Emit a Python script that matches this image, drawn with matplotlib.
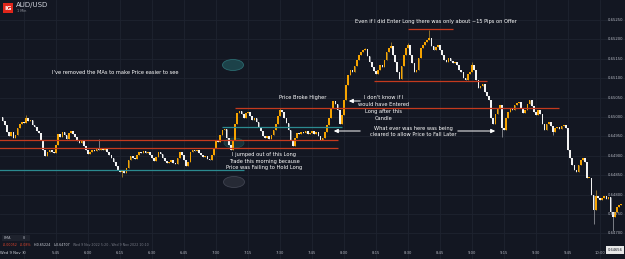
import numpy as np
import matplotlib
matplotlib.use("Agg")
from matplotlib import pyplot as plt
from matplotlib.patches import Ellipse, Rectangle

# 1 minute AUD/USD candles, Wed 9 Nov 2022 5:20 - 10:10
first_open = 0.65000
closes = [
    0.64990, 0.64979, 0.64961, 0.64951, 0.64961, 0.64946, 0.64954, 0.64972, 0.64982, 0.64987,
    0.64985, 0.64997, 0.64990, 0.64992, 0.64979, 0.64974, 0.64964, 0.64959, 0.64941, 0.64915,
    0.64899, 0.64910, 0.64915, 0.64910, 0.64907, 0.64928, 0.64956, 0.64948, 0.64961, 0.64954,
    0.64943, 0.64959, 0.64964, 0.64956, 0.64948, 0.64938, 0.64933, 0.64941, 0.64925, 0.64915,
    0.64905, 0.64910, 0.64915, 0.64912, 0.64918, 0.64915, 0.64920, 0.64915, 0.64918, 0.64910,
    0.64902, 0.64894, 0.64884, 0.64874, 0.64863, 0.64858, 0.64863, 0.64856, 0.64869, 0.64889,
    0.64899, 0.64894, 0.64892, 0.64902, 0.64910, 0.64907, 0.64912, 0.64907, 0.64910, 0.64902,
    0.64894, 0.64887, 0.64897, 0.64910, 0.64905, 0.64894, 0.64887, 0.64881, 0.64884, 0.64889,
    0.64881, 0.64879, 0.64894, 0.64910, 0.64902, 0.64889, 0.64874, 0.64884, 0.64910, 0.64915,
    0.64912, 0.64915, 0.64907, 0.64902, 0.64897, 0.64899, 0.64892, 0.64889, 0.64902, 0.64920,
    0.64941, 0.64936, 0.64954, 0.64966, 0.64969, 0.64946, 0.64928, 0.64915, 0.64941, 0.64982,
    0.65010, 0.65015, 0.65008, 0.64997, 0.65010, 0.65013, 0.65003, 0.64992, 0.64997, 0.64987,
    0.64974, 0.64964, 0.64951, 0.64946, 0.64951, 0.64943, 0.64954, 0.64966, 0.64982, 0.65003,
    0.65018, 0.65013, 0.64997, 0.64985, 0.64966, 0.64941, 0.64925, 0.64946, 0.64959, 0.64956,
    0.64961, 0.64959, 0.64964, 0.64956, 0.64959, 0.64964, 0.64956, 0.64961, 0.64951, 0.64941,
    0.64946, 0.64961, 0.64979, 0.64997, 0.65023, 0.65041, 0.65034, 0.65018, 0.64982, 0.65005,
    0.65044, 0.65082, 0.65108, 0.65121, 0.65116, 0.65131, 0.65147, 0.65160, 0.65168, 0.65173,
    0.65175, 0.65157, 0.65142, 0.65129, 0.65119, 0.65111, 0.65121, 0.65134, 0.65129, 0.65147,
    0.65168, 0.65178, 0.65183, 0.65160, 0.65142, 0.65116, 0.65098, 0.65131, 0.65160, 0.65178,
    0.65186, 0.65160, 0.65139, 0.65116, 0.65121, 0.65152, 0.65178, 0.65186, 0.65193, 0.65198,
    0.65204, 0.65183, 0.65173, 0.65180, 0.65186, 0.65173, 0.65160, 0.65147, 0.65142, 0.65152,
    0.65144, 0.65139, 0.65142, 0.65134, 0.65121, 0.65116, 0.65101, 0.65095, 0.65111, 0.65116,
    0.65134, 0.65121, 0.65095, 0.65075, 0.65080, 0.65085, 0.65064, 0.65054, 0.65044, 0.64997,
    0.64982, 0.65008, 0.65023, 0.65031, 0.64972, 0.64966, 0.64997, 0.65013, 0.65023, 0.65018,
    0.65031, 0.65036, 0.65039, 0.65023, 0.65010, 0.65018, 0.65034, 0.65044, 0.65028, 0.65013,
    0.65005, 0.65018, 0.65008, 0.64982, 0.64966, 0.64982, 0.64987, 0.64977, 0.64961, 0.64972,
    0.64974, 0.64969, 0.64977, 0.64979, 0.64972, 0.64915, 0.64894, 0.64876, 0.64863, 0.64858,
    0.64876, 0.64889, 0.64894, 0.64884, 0.64843, 0.64843, 0.64799, 0.64760, 0.64796, 0.64791,
    0.64786, 0.64791, 0.64796, 0.64789, 0.64794, 0.64755, 0.64742, 0.64755, 0.64768, 0.64773,
    0.64776,
]
# wicks that stick out visibly (candle index -> price)
wick_highs = {11: 0.65005, 45: 0.64943, 130: 0.65023, 170: 0.65178, 182: 0.65193,
              190: 0.65191, 200: 0.65224, 220: 0.65142, 278: 0.64812}
wick_lows = {56: 0.64845, 234: 0.64948, 258: 0.64954, 277: 0.64725, 286: 0.64707}

# x axis labels every 15 minutes from 5:30
tick_times = ["5:30", "5:45", "6:00", "6:15", "6:30", "6:45", "7:00", "7:15", "7:30",
              "7:45", "8:00", "8:15", "8:30", "8:45", "9:00", "9:15", "9:30", "9:45", "10:00"]
price_ticks = [0.64700, 0.64750, 0.64800, 0.64850, 0.64900, 0.64950,
               0.65000, 0.65050, 0.65100, 0.65150, 0.65200, 0.65250]

# drawn levels: (price, start candle, end candle)
red_levels = [(0.64941, -2, 157), (0.64920, -2, 157), (0.65023, 109, 261),
              (0.65093, 174, 227), (0.65227, 190, 211)]
teal_levels = [(0.64863, -2, 113), (0.64974, 103, 159)]

bg = "#131722"
up_col = "#f5a300"
dn_col = "#f2f2f2"


def minute_index(t):
    h, m = t.split(":")
    return int(h) * 60 + int(m) - (5 * 60 + 20)


closes = np.array(closes)
opens = np.concatenate([[first_open], closes[:-1]])
idx = np.arange(len(closes))
highs = np.maximum(opens, closes)
lows = np.minimum(opens, closes)
for k, v in wick_highs.items():
    highs[k] = v
for k, v in wick_lows.items():
    lows[k] = v

fig = plt.figure(figsize=(6.25, 2.59), dpi=100, facecolor=bg)
ax = fig.add_axes([0, 0, 1, 1], facecolor=bg)
ax.set_xlim(-1.25, 291.75)
ax.set_ylim(0.646341, 0.653015)
ax.axis("off")

# grid
for t in tick_times:
    ax.axvline(minute_index(t), color="#1e2330", lw=0.6, zorder=0)
for p in price_ticks:
    ax.axhline(p, color="#1e2330", lw=0.6, zorder=0)

# candles
up = closes >= opens
colors = np.where(up, up_col, dn_col)
wick_colors = np.where(up, "#a07c2c", "#8c8f96")
ax.vlines(idx, lows, highs, colors=wick_colors, lw=0.6, zorder=2)
body_h = np.maximum(np.abs(closes - opens), 0.000018)
ax.bar(idx, body_h, bottom=np.minimum(opens, closes), width=0.78,
       color=colors, linewidth=0, zorder=3)

# levels
for p, a, b in red_levels:
    ax.hlines(p, a, b, color="#c43a1e", lw=0.9, zorder=4)
for p, a, b in teal_levels:
    ax.hlines(p, a, b, color="#2b8a90", lw=0.9, zorder=4)

tr = ax.transAxes


def P(x, y):
    return (x / 625, 1 - y / 259)


# ellipses
ax.add_patch(Ellipse(P(233, 65), 21 / 625, 11 / 259, transform=tr,
                     facecolor="#1c4249", edgecolor="#2b6b70", lw=0.6, zorder=1))
ax.add_patch(Ellipse(P(234, 143), 20 / 625, 10 / 259, transform=tr,
                     facecolor="#1c3a40", edgecolor="#24565b", lw=0.5, alpha=0.8, zorder=1))
ax.add_patch(Ellipse(P(234, 182), 21 / 625, 11 / 259, transform=tr,
                     facecolor="#262a35", edgecolor="#404451", lw=0.6, zorder=1))

# annotation texts
fs = 3.7
txt = dict(color="white", fontsize=fs, transform=tr, zorder=6, linespacing=1.45)
ax.text(*P(115, 72), "I've removed the MAs to make Price easier to see", ha="center", va="center", **txt)
ax.text(*P(436, 22), "Even if I did Enter Long there was only about ~15 Pips on Offer",
        ha="center", va="center", **txt)
ax.text(*P(303, 98), "Price Broke Higher", ha="center", va="center", **txt)
ax.text(*P(384, 108), "I don't know if I\nwould have Entered\nLong after this\nCandle",
        ha="center", va="center", **txt)
ax.text(*P(413, 131.5), "What ever was here was being\ncleared to allow Price to Fall Later",
        ha="center", va="center", **txt)
ax.text(*P(264, 161), "I jumped out of this Long\nTrade this morning because\nPrice was Failing to Hold Long",
        ha="center", va="center", **txt)

arrow = dict(arrowstyle="-|>,head_length=0.25,head_width=0.12", color="white", lw=0.7)
ax.annotate("", xy=P(346, 101), xytext=P(363, 101), xycoords=tr, textcoords=tr, arrowprops=arrow)
ax.annotate("", xy=P(331, 131), xytext=P(363, 131), xycoords=tr, textcoords=tr, arrowprops=arrow)
ax.annotate("", xy=P(498, 131), xytext=P(455, 131), xycoords=tr, textcoords=tr, arrowprops=arrow)

# price axis labels
for p in price_ticks:
    ax.text(0.984, p, "%.5f" % p, color="#b2b5be", fontsize=2.7, ha="center", va="center",
            transform=ax.get_yaxis_transform(), zorder=6)
ax.add_patch(Rectangle(P(606, 254), 18 / 625, 8 / 259, transform=tr,
                       facecolor="#e8e8e8", edgecolor="none", zorder=6))
ax.text(*P(615, 250), "0.64656", color="#131722", fontsize=2.6, ha="center", va="center",
        transform=tr, zorder=7)

# time axis labels
xt = ax.get_xaxis_transform()
for t in tick_times:
    lab = "30" if t == "5:30" else t
    ax.text(minute_index(t), 1 - 253 / 259, lab, color="#b2b5be", fontsize=2.7,
            ha="center", va="center", transform=xt, zorder=6)
ax.text(*P(10, 253), "Wed 9 Nov", color="#d1d4dc", fontsize=2.7, ha="center", va="center",
        transform=tr, zorder=6)

# symbol header
ax.add_patch(Rectangle(P(3, 13), 10 / 625, 10 / 259, transform=tr,
                       facecolor="#e0261b", edgecolor="none", zorder=6))
ax.text(*P(8, 8), "IG", color="white", fontsize=4.5, fontweight="bold",
        ha="center", va="center", transform=tr, zorder=7)
ax.text(*P(16, 5.5), "AUD/USD", color="#d1d4dc", fontsize=5.0, ha="left", va="center",
        transform=tr, zorder=6)
ax.text(*P(17, 11.5), "1 Min", color="#9598a1", fontsize=2.4, ha="left", va="center",
        transform=tr, zorder=6)

# indicator legend
ax.add_patch(Rectangle(P(2, 241), 28 / 625, 6 / 259, transform=tr,
                       facecolor="#1e222d", edgecolor="none", zorder=6))
ax.text(*P(4, 238), "EMA", color="#b2b5be", fontsize=2.4, ha="left", va="center", transform=tr, zorder=7)
ax.text(*P(23, 238), "8", color="#b2b5be", fontsize=2.4, ha="left", va="center", transform=tr, zorder=7)
legend_items = [(3, "-0.00052", "#e0452c"), (20, "-0.08%", "#e0452c"),
                (34, "H:0.65224", "#d1d4dc"), (54, "L:0.64707", "#d1d4dc"),
                (73, "Wed 9 Nov 2022 5:20 - Wed 9 Nov 2022 10:10", "#787b86")]
for x, s, c in legend_items:
    ax.text(*P(x, 244.5), s, color=c, fontsize=2.3, ha="left", va="center", transform=tr, zorder=6)

fig.savefig("out.png", dpi=100, facecolor=bg)
